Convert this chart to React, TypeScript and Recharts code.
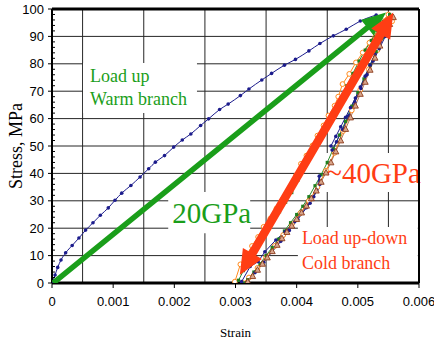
import React from "react";
import {
  LineChart,
  Line,
  XAxis,
  YAxis,
  CartesianGrid,
  ReferenceArea,
  ReferenceLine,
} from "recharts";

type Pair = [number, number];

const xTicks = [0, 0.001, 0.002, 0.003, 0.004, 0.005, 0.006];
const yTicks = [0, 10, 20, 30, 40, 50, 60, 70, 80, 90, 100];
const yMinorTicks = [
  2, 4, 6, 8, 12, 14, 16, 18, 22, 24, 26, 28, 32, 34, 36, 38, 42, 44, 46, 48,
  52, 54, 56, 58, 62, 64, 66, 68, 72, 74, 76, 78, 82, 84, 86, 88, 92, 94, 96, 98,
];
const gridX = [0.0005, 0.001, 0.0015, 0.002, 0.0025, 0.003, 0.0035, 0.004, 0.0045, 0.005, 0.0055];

// warm branch, load up (blue dots)
const warmBranch: Pair[] = [
  [0, 0], [0.00005, 2.9], [0.000093, 5.7], [0.000147, 8.4], [0.000223, 11], [0.00033, 13.7],
  [0.00044, 16.4], [0.00055, 19.3], [0.00067, 22], [0.00079, 24.7], [0.00092, 27.4], [0.00103, 30.2],
  [0.00114, 32.8], [0.00129, 35.6], [0.00144, 38.7], [0.00158, 41.7], [0.00169, 44.1], [0.00184, 46.5],
  [0.00199, 49.6], [0.00213, 52.2], [0.00227, 54.4], [0.00243, 57.5], [0.00256, 59.9], [0.00274, 63.3],
  [0.00288, 65.3], [0.00308, 68.4], [0.00322, 70.8], [0.00343, 74.1], [0.00359, 76.5], [0.0038, 79.5],
  [0.00398, 81.6], [0.0042, 84.7], [0.00438, 87.4], [0.0046, 90.2], [0.00481, 92.6], [0.00504, 95.6],
  [0.0053, 97.8],
];

// cold branch cycles
const orangeLoop: Pair[] = [
  [0.00299, 0.5], [0.00308, 6.8], [0.00318, 10.2], [0.00327, 13.5], [0.00337, 16.8], [0.00346, 20.5],
  [0.00357, 23.5], [0.00367, 27.2], [0.00377, 30.5], [0.00388, 33.8], [0.00399, 39.3], [0.00407, 43.5],
  [0.00416, 46.5], [0.00426, 50.2], [0.00434, 53.8], [0.00444, 57.5], [0.00452, 61.1], [0.00462, 64.7],
  [0.00468, 68], [0.00475, 72.6], [0.00486, 76.3], [0.00497, 80.5], [0.00508, 84.1], [0.00519, 87.7],
  [0.0053, 92], [0.0054, 95.6], [0.0055, 98],
  [0.00556, 95.5], [0.00546, 91.5], [0.00532, 85], [0.00518, 78], [0.00504, 70.5], [0.0049, 63],
  [0.00476, 55.5], [0.00462, 47.5], [0.00448, 41], [0.00434, 35], [0.0042, 30], [0.00406, 25.5],
  [0.00392, 21.5], [0.00378, 17.5], [0.00364, 13.5], [0.0035, 9.5], [0.00336, 5.5], [0.00322, 2],
  [0.00312, 0],
];

const greenLoop: Pair[] = [
  [0.00305, 1], [0.00313, 4.5], [0.00322, 8], [0.00332, 12], [0.00342, 15.5], [0.00352, 19],
  [0.00362, 22.5], [0.00372, 26], [0.00382, 29.5], [0.00392, 33], [0.00402, 37.5], [0.00412, 42],
  [0.00422, 46.5], [0.00432, 51], [0.00442, 55], [0.00452, 59], [0.00462, 63], [0.00472, 67.5],
  [0.00482, 72], [0.00492, 76.5], [0.00502, 81], [0.00512, 85], [0.00522, 88.5], [0.00532, 92],
  [0.00542, 95.5], [0.00552, 98],
  [0.00548, 93], [0.0054, 89.5], [0.0053, 84.5], [0.0052, 79.5], [0.0051, 74.5], [0.005, 69.5],
  [0.0049, 64.5], [0.0048, 59], [0.0047, 54], [0.0046, 49], [0.0045, 44], [0.0044, 39.5],
  [0.0043, 35.5], [0.0042, 31.5], [0.0041, 28], [0.004, 25], [0.0039, 22], [0.0038, 19],
  [0.0037, 16], [0.0036, 13], [0.0035, 10], [0.0034, 7], [0.0033, 4], [0.0032, 1.2], [0.00314, 0],
];

const blueLoopLow: Pair[] = [
  [0.0031, 0.5], [0.00324, 6], [0.00337, 7.8], [0.00348, 11.4], [0.00366, 15.7], [0.00381, 18.7],
  [0.00397, 22.4], [0.00408, 25.4], [0.00422, 29.1], [0.00433, 33.9], [0.00437, 39],
  [0.00438, 36], [0.00428, 31.5], [0.00416, 27.5], [0.00402, 23.2], [0.00388, 19.2], [0.00374, 15.2],
  [0.0036, 11.4], [0.00346, 7.6], [0.00332, 3.8], [0.0032, 0.5],
];

const blueLoopHigh: Pair[] = [
  [0.00456, 50], [0.00464, 53.5], [0.00472, 57], [0.0048, 60.5], [0.00488, 64], [0.00496, 67.5],
  [0.00504, 71.5], [0.00512, 75.5], [0.0052, 79.5], [0.00528, 83.5], [0.00536, 88], [0.00544, 92.5],
  [0.0055, 96],
  [0.00553, 94], [0.00545, 90], [0.00535, 85.5], [0.00525, 81], [0.00515, 76], [0.00505, 71],
  [0.00495, 66], [0.00485, 61], [0.00475, 56], [0.00465, 51.5], [0.00458, 48.5],
];

const brownUnload: Pair[] = [
  [0.00558, 97], [0.00552, 94.5], [0.00544, 90.8], [0.00536, 86.6], [0.00528, 82.2], [0.0052, 77.8],
  [0.00512, 73.4], [0.00504, 69], [0.00496, 64.7], [0.00488, 60.4], [0.0048, 56.2], [0.00472, 52],
  [0.00464, 48], [0.00456, 44], [0.00448, 40.3], [0.0044, 36.9], [0.00432, 33.7], [0.00424, 30.9],
  [0.00416, 28.2], [0.00408, 25.7], [0.004, 23.3], [0.00392, 20.9], [0.00384, 18.6], [0.00376, 16.3],
  [0.00368, 13.9], [0.0036, 11.6], [0.00352, 9.3], [0.00344, 7], [0.00336, 4.8], [0.00328, 2.5],
  [0.0032, 0.5],
];

// modulus arrows (start, tip)
const warmArrow: Pair[] = [[0.00002, 0], [0.00546, 98.7]];
const coldArrow: Pair[] = [[0.00307, 2.9], [0.00558, 98.7]];

const toPts = (arr: Pair[]) => arr.map(([x, y]) => ({ x, y }));

const SERIF = "'Liberation Serif', 'Times New Roman', serif";
const SANS = "'Liberation Sans', Arial, sans-serif";

// draws the whole arrow (shaft + head) at the last point
function makeArrow(color: string, shaft: number, headLen: number, headW: number, both: boolean) {
  let start: { x: number; y: number } | null = null;
  return (props: any) => {
    const { cx, cy, index, points } = props;
    if (index === 0) {
      start = { x: cx, y: cy };
      return <g key="arrow-start" />;
    }
    const s = points && points[0] ? { x: points[0].x, y: points[0].y } : start;
    if (!s) return <g key="arrow-none" />;
    const dx = cx - s.x;
    const dy = cy - s.y;
    const len = Math.sqrt(dx * dx + dy * dy);
    const ux = dx / len;
    const uy = dy / len;
    const nx = -uy;
    const ny = ux;
    const p = (x: number, y: number) => `${x.toFixed(1)},${y.toFixed(1)}`;
    const bx = cx - ux * headLen;
    const by = cy - uy * headLen;
    const w = shaft / 2;
    const h = headW / 2;
    const pts: string[] = [];
    if (both) {
      const sx = s.x + ux * headLen;
      const sy = s.y + uy * headLen;
      pts.push(p(s.x, s.y), p(sx + nx * h, sy + ny * h), p(sx + nx * w, sy + ny * w));
      pts.push(p(bx + nx * w, by + ny * w), p(bx + nx * h, by + ny * h), p(cx, cy));
      pts.push(p(bx - nx * h, by - ny * h), p(bx - nx * w, by - ny * w));
      pts.push(p(sx - nx * w, sy - ny * w), p(sx - nx * h, sy - ny * h));
    } else {
      pts.push(p(s.x + nx * w, s.y + ny * w), p(bx + nx * w, by + ny * w), p(bx + nx * h, by + ny * h));
      pts.push(p(cx, cy), p(bx - nx * h, by - ny * h), p(bx - nx * w, by - ny * w), p(s.x - nx * w, s.y - ny * w));
    }
    return <polygon key="arrow-body" points={pts.join(" ")} fill={color} stroke="none" />;
  };
}

const squareDot = (color: string) => (props: any) => (
  <rect key={`sq-${props.index}`} x={props.cx - 1.6} y={props.cy - 1.6} width={3.2} height={3.2} fill={color} />
);

const triangleDot = (props: any) => {
  const { cx, cy, index } = props;
  return (
    <polygon
      key={`tri-${index}`}
      points={`${cx},${cy - 3.2} ${cx - 3},${cy + 2.4} ${cx + 3},${cy + 2.4}`}
      fill="#d9a58a"
      stroke="#8b3a1a"
      strokeWidth={0.9}
    />
  );
};

function NoteText(props: any) {
  const { viewBox, lines, color, size, pad, first, step } = props;
  if (!viewBox) return null;
  const st = { fontFamily: SERIF, fontSize: size, fill: color };
  return (
    <text x={viewBox.x + pad} y={viewBox.y + first} style={st}>
      {lines.map((t: string, i: number) => (
        <tspan key={i} x={viewBox.x + pad} y={viewBox.y + first + i * step} style={st}>
          {t}
        </tspan>
      ))}
    </text>
  );
}

function YLabel(props: any) {
  const { viewBox } = props;
  if (!viewBox) return null;
  const cx = 22;
  const cy = viewBox.y + viewBox.height / 2;
  return (
    <text
      x={cx}
      y={cy}
      transform={`rotate(-90 ${cx} ${cy})`}
      textAnchor="middle"
      style={{ fontFamily: SERIF, fontSize: 18, fill: "#000" }}
    >
      Stress, MPa
    </text>
  );
}

const GREEN = "#1a9e1a";
const RED = "#ff3d14";
const ORANGE = "#ff8a1c";
const NAVY = "#1c1c8c";

export default function App() {
  return (
    <div style={{ position: "absolute", left: 0, top: 0, width: 434, height: 340, background: "#fff" }}>
      <LineChart width={434} height={340} margin={{ top: 9, right: 15, left: 0, bottom: 0 }}>
        <CartesianGrid
          stroke="#262626"
          strokeWidth={1}
          horizontalValues={yTicks}
          verticalValues={gridX}
        />
        <XAxis
          type="number"
          dataKey="x"
          domain={[0, 0.006]}
          ticks={xTicks}
          allowDataOverflow
          tickFormatter={(v: number) => (v === 0 ? "0" : v.toFixed(3))}
          tick={{ fontFamily: SANS, fontSize: 13, fill: "#000" }}
          tickSize={5}
          tickMargin={9}
          height={57}
          axisLine={{ stroke: "#000", strokeWidth: 3 }}
          tickLine={{ stroke: "#000" }}
          label={{
            value: "Strain",
            position: "insideBottom",
            offset: 3,
            style: { fontFamily: SERIF, fontSize: 13, fill: "#000" },
          }}
        />
        <YAxis
          type="number"
          dataKey="y"
          domain={[0, 100]}
          ticks={yTicks}
          allowDataOverflow
          width={52}
          tick={{ fontFamily: SANS, fontSize: 13, fill: "#000" }}
          tickSize={4}
          tickMargin={4}
          axisLine={{ stroke: "#000", strokeWidth: 2 }}
          tickLine={{ stroke: "#000" }}
          label={<YLabel />}
        />
        <YAxis
          yAxisId="minor"
          type="number"
          domain={[0, 100]}
          ticks={yMinorTicks}
          allowDataOverflow
          mirror
          axisLine={false}
          tickSize={3}
          tickFormatter={() => ""}
          tickLine={{ stroke: "#000" }}
        />
        <ReferenceLine y={100} stroke="#000" strokeWidth={3} />
        <ReferenceLine x={0.006} stroke="#000" strokeWidth={2} />

        <ReferenceArea
          x1={0.000507}
          x2={0.00237}
          y1={62}
          y2={80.3}
          fill="#fff"
          fillOpacity={1}
          stroke="none"
          label={<NoteText lines={["Load up", "Warm branch"]} color={GREEN} size={18} pad={7} first={19} step={23} />}
        />
        <ReferenceArea
          x1={0.0019}
          x2={0.00324}
          y1={18.2}
          y2={33.2}
          fill="#fff"
          fillOpacity={1}
          stroke="none"
          label={<NoteText lines={["20GPa"]} color={GREEN} size={29} pad={4} first={31} step={0} />}
        />
        <ReferenceArea
          x1={0.00445}
          x2={0.00598}
          y1={33.2}
          y2={47.4}
          fill="#fff"
          fillOpacity={1}
          stroke="none"
          label={<NoteText lines={["~40GPa"]} color={RED} size={29} pad={2} first={30} step={0} />}
        />
        <ReferenceArea
          x1={0.00402}
          x2={0.00598}
          y1={0.4}
          y2={20.4}
          fill="#fff"
          fillOpacity={1}
          stroke="none"
          label={<NoteText lines={["Load up-down", "Cold branch"]} color={RED} size={18} pad={4} first={17} step={25} />}
        />

        <Line
          data={toPts(warmBranch)}
          dataKey="y"
          type="monotone"
          stroke={NAVY}
          strokeWidth={1}
          dot={{ r: 1.8, fill: NAVY, stroke: "none" }}
          isAnimationActive={false}
        />
        <Line
          data={toPts(orangeLoop)}
          dataKey="y"
          type="linear"
          stroke={ORANGE}
          strokeWidth={1}
          dot={{ r: 2.4, fill: "#fff", stroke: ORANGE, strokeWidth: 1 }}
          isAnimationActive={false}
        />
        <Line
          data={toPts(greenLoop)}
          dataKey="y"
          type="linear"
          stroke="#2a8c2a"
          strokeWidth={1}
          dot={squareDot("#1f7f1f")}
          isAnimationActive={false}
        />
        <Line
          data={toPts(blueLoopLow)}
          dataKey="y"
          type="linear"
          stroke={NAVY}
          strokeWidth={1}
          dot={{ r: 1.8, fill: NAVY, stroke: "none" }}
          isAnimationActive={false}
        />
        <Line
          data={toPts(blueLoopHigh)}
          dataKey="y"
          type="linear"
          stroke={NAVY}
          strokeWidth={1}
          dot={{ r: 1.8, fill: NAVY, stroke: "none" }}
          isAnimationActive={false}
        />
        <Line
          data={toPts(brownUnload)}
          dataKey="y"
          type="linear"
          stroke="#a0522d"
          strokeWidth={0.8}
          dot={triangleDot}
          isAnimationActive={false}
        />
        <Line
          data={toPts(warmArrow)}
          dataKey="y"
          type="linear"
          stroke="none"
          dot={makeArrow(GREEN, 5.5, 24, 20, false)}
          activeDot={false}
          isAnimationActive={false}
        />
        <Line
          data={toPts(coldArrow)}
          dataKey="y"
          type="linear"
          stroke="none"
          dot={makeArrow(RED, 8.5, 25, 22, true)}
          activeDot={false}
          isAnimationActive={false}
        />
      </LineChart>
    </div>
  );
}
